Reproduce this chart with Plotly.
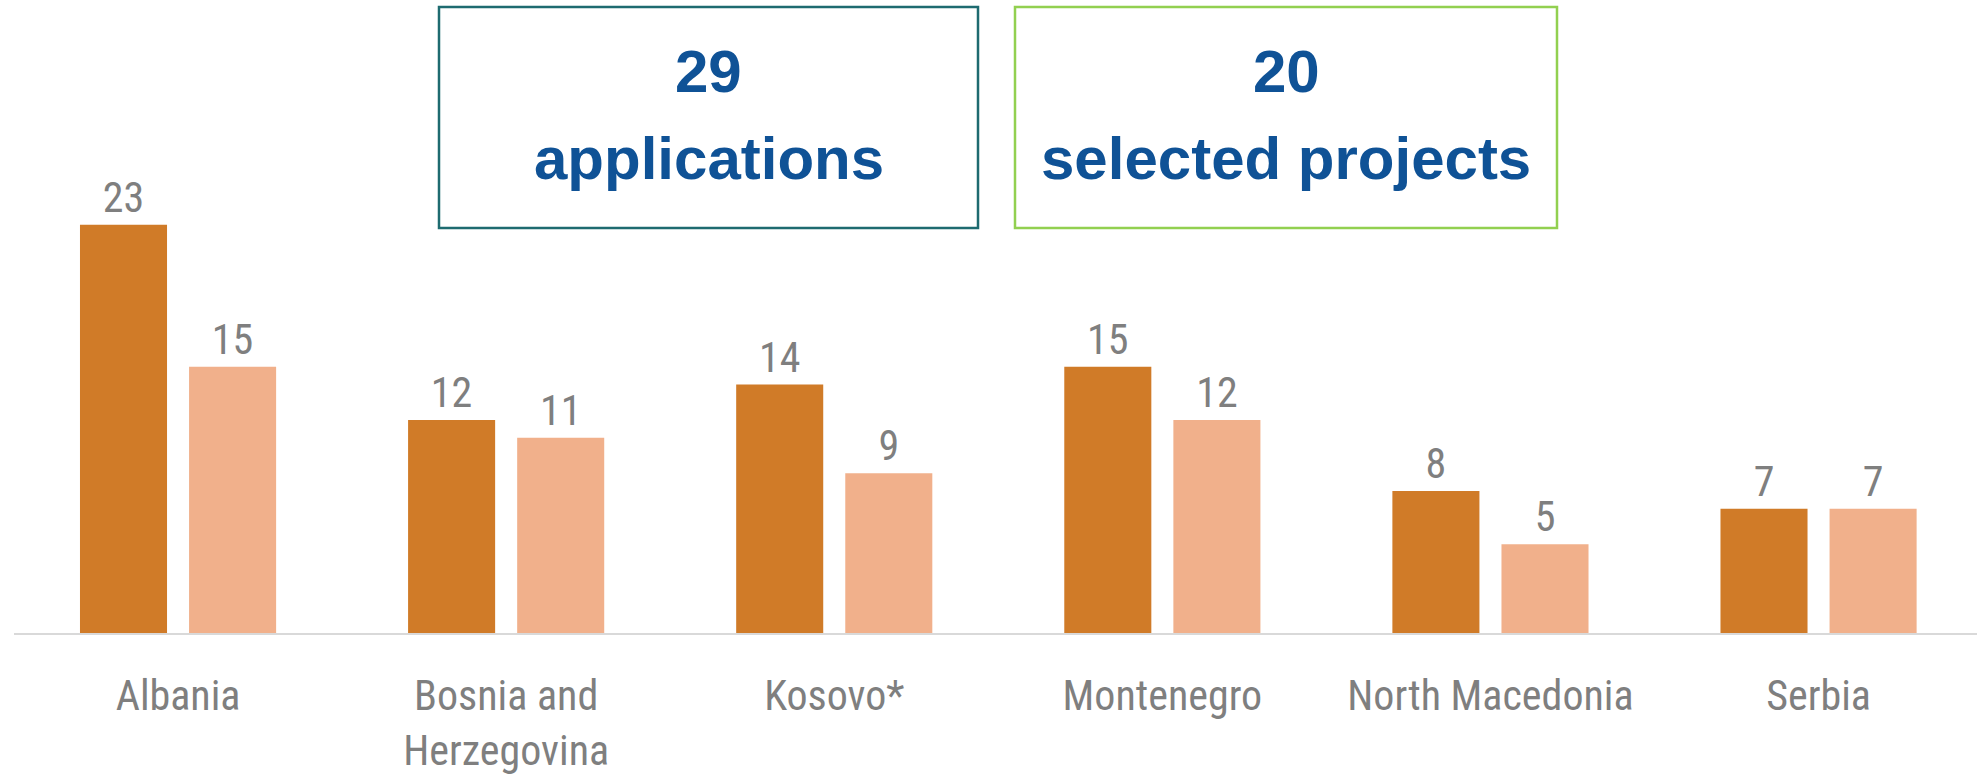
import plotly.graph_objects as go

categories = ["Albania", "Bosnia and<br>Herzegovina", "Kosovo*", "Montenegro", "North Macedonia", "Serbia"]
applications = [23, 12, 14, 15, 8, 7]
selected = [15, 11, 9, 12, 5, 7]
total_applications = 29
total_selected = 20

W, H = 1977, 778
ML, MR, MT, MB = 14, 0, 0, 145
PW, PH = W - ML - MR, H - MT - MB

def px(x):
    return (x - ML) / PW

def py(y):
    return (H - MB - y) / PH

label_font = dict(family="Roboto Condensed, Liberation Sans, sans-serif", size=42, color="#7F7F7F")

fig = go.Figure()
fig.add_trace(go.Bar(x=categories, y=applications, name="Applications",
                     marker=dict(color="#D07B28", line=dict(width=0)),
                     text=applications, textposition="outside", textfont=label_font,
                     cliponaxis=False, hoverinfo="skip"))
fig.add_trace(go.Bar(x=categories, y=selected, name="Selected",
                     marker=dict(color="#F1B08B", line=dict(width=0)),
                     text=selected, textposition="outside", textfont=label_font,
                     cliponaxis=False, hoverinfo="skip"))

boxes = [
    (439, 978, "#1E6B70", total_applications, "applications"),
    (1015, 1557, "#92D050", total_selected, "selected projects"),
]
for x0, x1, col, num, word in boxes:
    fig.add_shape(type="rect", xref="paper", yref="paper",
                  x0=px(x0), x1=px(x1), y0=py(228), y1=py(7),
                  line=dict(color=col, width=2.5), fillcolor="rgba(0,0,0,0)", layer="above")
    cx = px((x0 + x1) / 2)
    fig.add_annotation(xref="paper", yref="paper", x=cx, y=py(93), yanchor="bottom",
                       text=f"<b>{num}</b>", showarrow=False,
                       font=dict(family="Liberation Sans, Arial, sans-serif", size=60, color="#0F5296"),
                       yshift=-14)
    fig.add_annotation(xref="paper", yref="paper", x=cx, y=py(180), yanchor="bottom",
                       text=f"<b>{word}</b>", showarrow=False,
                       font=dict(family="Liberation Sans, Arial, sans-serif", size=60, color="#0F5296"),
                       yshift=-14)

ppc = 328.1
fig.update_layout(
    width=W, height=H,
    margin=dict(l=ML, r=MR, t=MT, b=MB, pad=0),
    paper_bgcolor="white", plot_bgcolor="white",
    showlegend=False,
    barmode="group", bargap=0.335, bargroupgap=0.202,
    xaxis=dict(type="category", range=[-0.5, -0.5 + PW / ppc],
               showline=True, linecolor="#D9D9D9", linewidth=2,
               showgrid=False, ticks="", tickfont=label_font,
               ticklabelstandoff=25, fixedrange=True),
    yaxis=dict(range=[0, PH / 17.75], visible=False, showgrid=False, zeroline=False,
               fixedrange=True),
)

fig.write_html("out.html", config={"displayModeBar": False},
               post_script="document.body.style.margin='0';")
